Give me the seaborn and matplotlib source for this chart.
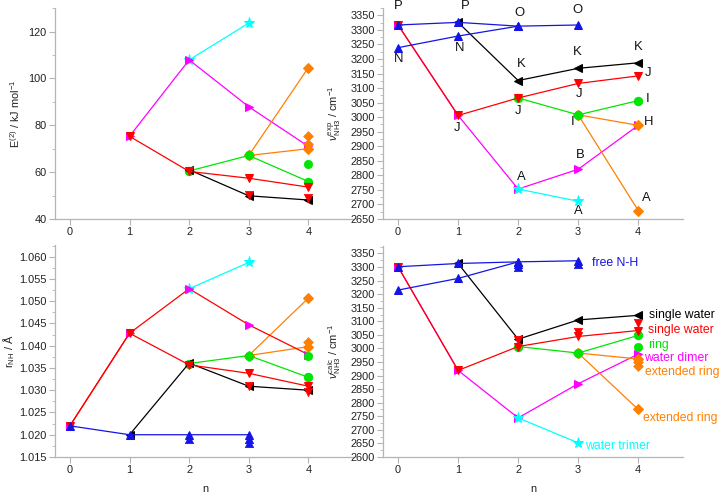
import numpy as np
import pandas as pd
import matplotlib
matplotlib.use("Agg")
import matplotlib.pyplot as plt
from matplotlib.ticker import MultipleLocator
import seaborn as sns

# ---------------- data ----------------
# Top-left: E(2) / kJ mol-1
E_magenta_n = [1, 2, 3, 4];  E_magenta = [75.3, 107.9, 87.9, 71.0]
E_cyan_n = [2, 3];           E_cyan = [107.9, 123.6]
E_red_n = [1, 2, 3, 4];      E_red = [75.3, 60.3, 57.4, 53.6]
E_red_x_n = [3, 4];          E_red_x = [50.4, 49.1]
E_black_n = [2, 3, 4];       E_black = [61.0, 49.9, 48.1]
E_green_n = [2, 3, 4];       E_green = [60.5, 67.1, 56.0]
E_green_x_n = [4];           E_green_x = [63.4]
E_orange1_n = [3, 4];        E_orange1 = [67.1, 104.6]
E_orange2_n = [3, 4];        E_orange2 = [67.1, 70.0]
E_orange_x_n = [4, 4];       E_orange_x = [75.3, 72.1]

# Top-right: nu_exp / cm-1
X_blue1_n = [0, 1, 2, 3];    X_blue1 = [3317, 3326, 3313, 3317]
X_blue2_n = [0, 1, 2];       X_blue2 = [3239, 3279, 3313]
X_black_n = [1, 2, 3, 4];    X_black = [3326, 3126, 3168, 3187]
X_red_n = [0, 1, 2, 3, 4];   X_red = [3317, 3006, 3066, 3116, 3142]
X_green_n = [2, 3, 4];       X_green = [3066, 3008, 3057]
X_orange1_n = [3, 4];        X_orange1 = [3008, 2972]
X_orange2_n = [3, 4];        X_orange2 = [3008, 2679]
X_magenta_n = [0, 1, 2, 3, 4]; X_magenta = [3317, 3006, 2753, 2821, 2972]
X_cyan_n = [2, 3];           X_cyan = [2753, 2711]
X_letters = ["P", "P", "O", "O", "N", "N", "K", "K", "K", "J", "J", "J", "J",
             "I", "I", "H", "B", "A", "A", "A"]
X_letter_n = [0.0, 1.11, 2.02, 2.99, 0.01, 1.02, 2.05, 2.99, 4.0, 4.17, 3.01, 1.99, 0.98,
              4.15, 2.91, 4.18, 3.04, 2.06, 3.0, 4.14]
X_letter_v = [3382, 3382, 3359, 3368, 3199, 3237, 3183, 3225, 3242, 3153, 3080, 3021, 2962,
              3064, 2984, 2982, 2870, 2794, 2679, 2722]

# Bottom-left: r_NH / Angstrom
R_blue_n = [0, 1, 2, 3];     R_blue = [1.0220, 1.0200, 1.0200, 1.0200]
R_blue_x_n = [2, 3, 3];      R_blue_x = [1.0191, 1.0191, 1.0181]
R_black_n = [1, 2, 3, 4];    R_black = [1.0200, 1.0361, 1.0309, 1.0300]
R_red_n = [0, 1, 2, 3, 4];   R_red = [1.0220, 1.0428, 1.0357, 1.0338, 1.0309]
R_red_x_n = [3, 4];          R_red_x = [1.0309, 1.0296]
R_magenta_n = [0, 1, 2, 3, 4]; R_magenta = [1.0220, 1.0428, 1.0528, 1.0447, 1.0380]
R_cyan_n = [2, 3];           R_cyan = [1.0528, 1.0587]
R_green_n = [2, 3, 4];       R_green = [1.0360, 1.0378, 1.0329]
R_green_x_n = [4];           R_green_x = [1.0378]
R_orange1_n = [3, 4];        R_orange1 = [1.0378, 1.0507]
R_orange2_n = [3, 4];        R_orange2 = [1.0378, 1.0398]
R_orange_x_n = [4];          R_orange_x = [1.0409]

# Bottom-right: nu_calc / cm-1
C_blue1_n = [0, 1, 2, 3];    C_blue1 = [3301, 3313, 3319, 3323]
C_blue2_n = [0, 1, 2];       C_blue2 = [3215, 3258, 3319]
C_blue_x_n = [2, 2, 3];      C_blue_x = [3311, 3301, 3311]
C_black_n = [1, 2, 3, 4];    C_black = [3313, 3034, 3105, 3122]
C_red_n = [0, 1, 2, 3, 4];   C_red = [3301, 2919, 3007, 3044, 3066]
C_red_x_n = [2, 3, 4];       C_red_x = [3032, 3059, 3093]
C_green_n = [2, 3, 4];       C_green = [3007, 2983, 3048]
C_green_x_n = [4];           C_green_x = [3007]
C_orange1_n = [3, 4];        C_orange1 = [2983, 2961]
C_orange2_n = [3, 4];        C_orange2 = [2983, 2775]
C_orange_x_n = [4, 4];       C_orange_x = [2949, 2937]
C_magenta_n = [0, 1, 2, 3, 4]; C_magenta = [3301, 2919, 2744, 2870, 2979]
C_cyan_n = [2, 3];           C_cyan = [2744, 2652]
C_labels = ["free N-H", "single water", "single water", "ring", "water dimer",
            "extended ring", "extended ring", "water trimer"]
C_label_n = [3.23, 4.18, 4.16, 4.16, 4.10, 4.11, 4.08, 3.12]
C_label_v = [3313, 3124, 3069, 3012, 2965, 2912, 2744, 2640]

x_ticks = [0, 1, 2, 3, 4]

# ---------------- style ----------------
sns.set_theme(style="ticks")
plt.rcParams['font.family'] = ['Liberation Sans', 'DejaVu Sans']
plt.rcParams['mathtext.fontset'] = 'custom'
plt.rcParams['mathtext.rm'] = 'Liberation Sans'
plt.rcParams['mathtext.it'] = 'Liberation Sans:italic'

BLUE = "#1414e6"; BLACK = "#000000"; RED = "#ff0000"; GREEN = "#00e600"
ORANGE = "#ff8000"; MAGENTA = "#ff00ff"; CYAN = "#00ffff"
SPINE = "#b4b4b4"
TXT = "#222222"
FS = 7.9
LFS = 8.8

fig = plt.figure(figsize=(7.2, 4.95), dpi=100)
ax_tl = fig.add_axes([0.0764, 0.5576, 0.414, 0.426])
ax_tr = fig.add_axes([0.532, 0.5576, 0.417, 0.426])
ax_bl = fig.add_axes([0.0764, 0.0768, 0.414, 0.428])
ax_br = fig.add_axes([0.532, 0.0768, 0.417, 0.426])


def line(ax, n, v, color, marker, ms=6, mfc=None, z=2):
    sns.lineplot(x=n, y=v, ax=ax, color=color, marker=marker, markersize=ms,
                 markeredgecolor=mfc or color, markerfacecolor=mfc or color,
                 linewidth=0.9, sort=False, estimator=None, zorder=z, clip_on=False)


def pts(ax, n, v, color, marker, ms=6, z=3):
    sns.scatterplot(x=n, y=v, ax=ax, color=color, marker=marker, s=ms ** 2,
                    edgecolor=color, linewidth=0.5, zorder=z, clip_on=False)


def style(ax, ylim, major, minor, fmt=None):
    ax.set_xlim(-0.25, 4.75)
    ax.set_ylim(*ylim)
    ax.set_xticks(x_ticks)
    ax.yaxis.set_major_locator(MultipleLocator(major))
    ax.yaxis.set_minor_locator(MultipleLocator(minor))
    if fmt:
        ax.yaxis.set_major_formatter(fmt)
    sns.despine(ax=ax)
    for s in ["left", "bottom"]:
        ax.spines[s].set_color(SPINE)
        ax.spines[s].set_linewidth(0.9)
    ax.tick_params(axis="both", which="both", colors=SPINE, labelcolor=TXT,
                   labelsize=FS, direction="out")
    ax.tick_params(axis="both", which="major", length=4, width=0.8, pad=2)
    ax.tick_params(axis="y", which="minor", length=2, width=0.6)
    ax.set_xlabel("n", fontsize=FS, color=TXT)


# --- top-left ---
ax = ax_tl
line(ax, E_cyan_n, E_cyan, CYAN, "*", 8)
line(ax, E_magenta_n, E_magenta, MAGENTA, ">")
line(ax, E_orange1_n, E_orange1, ORANGE, "D", 5)
line(ax, E_orange2_n, E_orange2, ORANGE, "D", 5)
pts(ax, E_orange_x_n, E_orange_x, ORANGE, "D", 5)
line(ax, E_green_n, E_green, GREEN, "o")
pts(ax, E_green_x_n, E_green_x, GREEN, "o")
line(ax, E_black_n, E_black, BLACK, "<")
line(ax, E_red_n, E_red, RED, "v")
pts(ax, E_red_x_n, E_red_x, RED, "v")
style(ax, (40, 130), 20, 10)
ax.set_ylabel("E$^{(2)}$ / kJ mol$^{-1}$", fontsize=FS, color=TXT)
ax.yaxis.set_label_coords(-0.11, 0.5)
ax.xaxis.set_label_coords(0.503, -0.137)

# --- top-right ---
ax = ax_tr
line(ax, X_magenta_n, X_magenta, MAGENTA, ">")
line(ax, X_cyan_n, X_cyan, CYAN, "*", 8)
line(ax, X_orange1_n, X_orange1, ORANGE, "D", 5)
line(ax, X_orange2_n, X_orange2, ORANGE, "D", 5)
line(ax, X_green_n, X_green, GREEN, "o")
line(ax, X_red_n, X_red, RED, "v")
line(ax, X_black_n, X_black, BLACK, "<")
line(ax, X_blue2_n, X_blue2, BLUE, "^")
line(ax, X_blue1_n, X_blue1, BLUE, "^")
style(ax, (2650, 3375), 50, 25)
for t, xn, yv in zip(X_letters, X_letter_n, X_letter_v):
    ax.text(xn, yv, t, ha="center", va="center", fontsize=9.4, color="#111111",
            clip_on=False)
ax.set_ylabel(r"$\nu_{\mathrm{NH3}}^{\mathrm{exp}}$ / cm$^{-1}$", fontsize=FS, color=TXT)
ax.yaxis.set_label_coords(-0.133, 0.5)
ax.xaxis.set_label_coords(0.5, -0.137)

# --- bottom-left ---
ax = ax_bl
line(ax, R_cyan_n, R_cyan, CYAN, "*", 8)
line(ax, R_orange1_n, R_orange1, ORANGE, "D", 5)
line(ax, R_orange2_n, R_orange2, ORANGE, "D", 5)
pts(ax, R_orange_x_n, R_orange_x, ORANGE, "D", 5)
line(ax, R_green_n, R_green, GREEN, "o")
pts(ax, R_green_x_n, R_green_x, GREEN, "o")
line(ax, R_magenta_n, R_magenta, RED, ">", mfc=MAGENTA)
line(ax, R_black_n, R_black, BLACK, "<")
line(ax, R_red_n, R_red, RED, "v")
pts(ax, R_red_x_n, R_red_x, RED, "v")
line(ax, R_blue_n, R_blue, BLUE, "^")
pts(ax, R_blue_x_n, R_blue_x, BLUE, "^")
style(ax, (1.015, 1.0626), 0.005, 0.0025,
      fmt=matplotlib.ticker.FormatStrFormatter("%.3f"))
ax.set_ylabel(r"r$_{\mathrm{NH}}$ / Å", fontsize=FS, color=TXT)
ax.yaxis.set_label_coords(-0.128, 0.5)
ax.xaxis.set_label_coords(0.503, -0.127)

# --- bottom-right ---
ax = ax_br
line(ax, C_magenta_n, C_magenta, MAGENTA, ">")
line(ax, C_cyan_n, C_cyan, CYAN, "*", 8)
line(ax, C_orange1_n, C_orange1, ORANGE, "D", 5)
line(ax, C_orange2_n, C_orange2, ORANGE, "D", 5)
pts(ax, C_orange_x_n, C_orange_x, ORANGE, "D", 5)
line(ax, C_green_n, C_green, GREEN, "o")
pts(ax, C_green_x_n, C_green_x, GREEN, "o")
line(ax, C_red_n, C_red, RED, "v")
pts(ax, C_red_x_n, C_red_x, RED, "v")
line(ax, C_black_n, C_black, BLACK, "<")
line(ax, C_blue2_n, C_blue2, BLUE, "^")
line(ax, C_blue1_n, C_blue1, BLUE, "^")
pts(ax, C_blue_x_n, C_blue_x, BLUE, "^")
style(ax, (2600, 3377), 50, 25)
label_colors = [BLUE, BLACK, RED, GREEN, MAGENTA, ORANGE, ORANGE, CYAN]
for t, xn, yv, c in zip(C_labels, C_label_n, C_label_v, label_colors):
    ax.text(xn, yv, t, ha="left", va="center", fontsize=LFS, color=c, clip_on=False)
ax.set_ylabel(r"$\nu_{\mathrm{NH3}}^{\mathrm{calc}}$ / cm$^{-1}$", fontsize=FS, color=TXT)
ax.yaxis.set_label_coords(-0.133, 0.5)
ax.xaxis.set_label_coords(0.5, -0.127)

fig.savefig("out.png", dpi=100, facecolor="white")
